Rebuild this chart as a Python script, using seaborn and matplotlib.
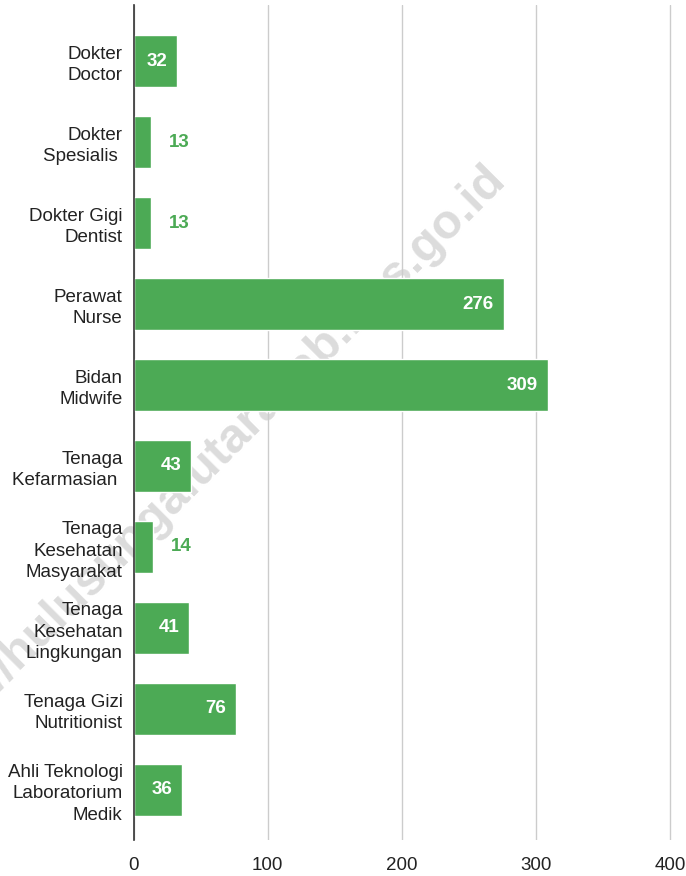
import matplotlib
matplotlib.use("Agg")
import matplotlib.pyplot as plt
import seaborn as sns
import pandas as pd

categories = [
    "Dokter\nDoctor",
    "Dokter\nSpesialis ",
    "Dokter Gigi\nDentist",
    "Perawat\nNurse",
    "Bidan\nMidwife",
    "Tenaga\nKefarmasian ",
    "Tenaga\nKesehatan\nMasyarakat",
    "Tenaga\nKesehatan\nLingkungan",
    "Tenaga Gizi\nNutritionist",
    "Ahli Teknologi\nLaboratorium\nMedik",
]
values = [32, 13, 13, 276, 309, 43, 14, 41, 76, 36]
x_ticks = [0, 100, 200, 300, 400]

df = pd.DataFrame({"kategori": categories, "jumlah": values})

sns.set_theme(style="white")
plt.rcParams["font.family"] = ["Liberation Sans", "DejaVu Sans"]

green = "#4caa55"

fig = plt.figure(figsize=(6.86, 8.76), dpi=100)
ax = fig.add_axes([0.195, 0.041, 0.805, 0.953])
ax.patch.set_alpha(0)

sns.barplot(data=df, y="kategori", x="jumlah", orient="h", color=green,
            saturation=1, width=0.64, ax=ax, zorder=3)

ax.set_xlim(0, 412)
ax.set_ylim(9.62, -0.69)
ax.set_xticks(x_ticks)
ax.set_xticklabels([str(t) for t in x_ticks], fontsize=13.5, color="#222222")
ax.tick_params(axis="x", length=0, pad=12)
ax.tick_params(axis="y", length=0, pad=8)
for lbl in ax.get_yticklabels():
    lbl.set_fontsize(13.5)
    lbl.set_color("#222222")
    lbl.set_horizontalalignment("right")
    lbl.set_multialignment("right")
    lbl.set_linespacing(1.32)

ax.set_xlabel("")
ax.set_ylabel("")
ax.grid(axis="x", color="#cccccc", linewidth=1, zorder=0)
ax.grid(axis="y", visible=False)
ax.set_axisbelow(True)
for side in ["top", "right", "bottom"]:
    ax.spines[side].set_visible(False)
ax.spines["left"].set_color("#333333")
ax.spines["left"].set_linewidth(1.2)
ax.spines["left"].set_zorder(4)

for i, v in enumerate(values):
    if v >= 30:
        ax.annotate(str(v), (v, i), xytext=(-7, 0), textcoords="offset points",
                    ha="right", va="center", color="white", fontsize=13.5,
                    fontweight="bold", zorder=5)
    else:
        ax.annotate(str(v), (v, i), xytext=(13, 0), textcoords="offset points",
                    ha="left", va="center", color=green, fontsize=13.5,
                    fontweight="bold", zorder=5)

# watermark, drawn under the axes (transparent patch)
fig.text(0.286, 0.459, "https://hulusungaiutarakab.bps.go.id", rotation=45,
         fontsize=35, fontweight="bold", color="#dcdcdc",
         ha="center", va="center", zorder=-1)

fig.savefig("out.png", dpi=100)
